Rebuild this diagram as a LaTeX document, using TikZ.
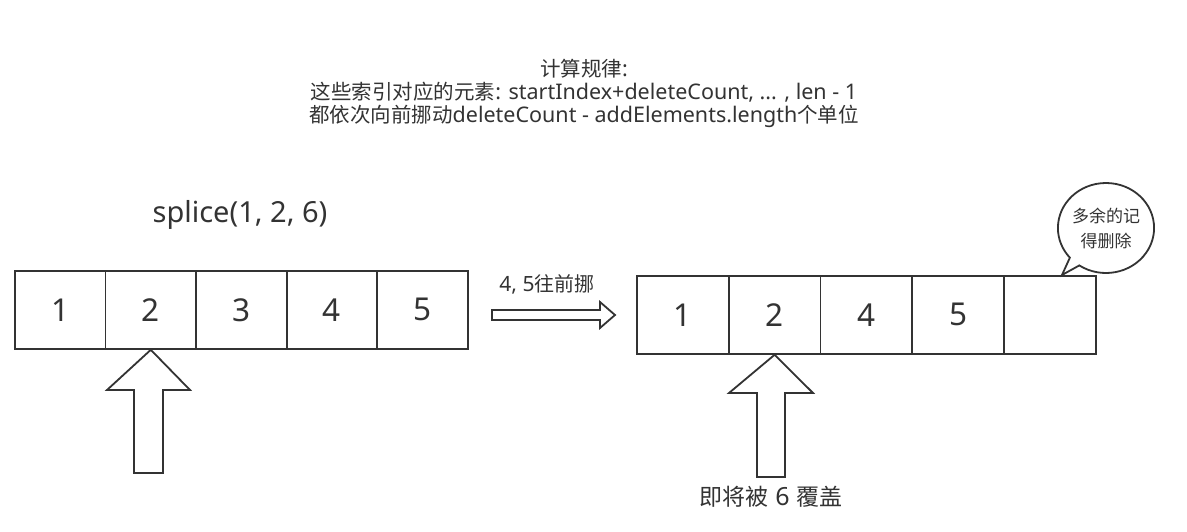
\documentclass[tikz,border=0pt]{standalone}
\usepackage{fontspec}
\setmainfont{Noto Sans}
\newfontfamily\cjk{Noto Sans CJK SC}
\usetikzlibrary{shapes.callouts,shapes.geometric}
\definecolor{ink}{HTML}{333333}
\newcommand\zhs[2]{{\cjk\fontsize{#1}{23}\selectfont #2}}
\begin{document}
\begin{tikzpicture}[x=1pt,y=-1pt,
  cellbox/.style={draw=ink,line width=1.8pt,minimum width=90.6pt,minimum height=78pt,inner sep=0pt,font=\fontsize{31.5}{32}\selectfont,text=ink,anchor=north west},
  rcellbox/.style={cellbox,minimum width=91.8pt},
  hollow/.style={draw=ink,line width=1.8pt,fill=white,line join=miter},
  lbl/.style={text=ink,inner sep=0pt,align=center}]
\useasboundingbox (0,0) rectangle (1187,532);
\fill[white] (0,0) rectangle (1187,532);
% title
\node[lbl,font=\fontsize{21.5}{23}\selectfont] (title) at (584,93)
  {\zhs{20.5}{计算规律}:\\\zhs{20.5}{这些索引对应的元素}: startIndex+deleteCount, ... , len - 1\\\zhs{20.5}{都依次向前挪动}deleteCount - addElements.length\zhs{20.5}{个单位}};
\node[lbl,font=\fontsize{29}{30}\selectfont] (call) at (240,215) {splice(1, 2, 6)};
% left row
\foreach \i/\t in {0/1,1/2,2/3,3/4,4/5}{
  \node[cellbox] (L\i) at (14+\i*90.6,270) {\t};
}
% right row
\foreach \i/\t in {0/1,1/2,2/4,3/5,4/{}}{
  \node[rcellbox] (R\i) at (636+\i*91.8,275) {\t};
}
% left up arrow
\coordinate (ltip) at (L1.south);
\draw[hollow] (ltip) -- (190,390) -- (163,390) -- (163,473) -- (134,473) -- (134,390) -- (107,390) -- cycle;
% right up arrow
\coordinate (rtip) at (R1.south);
\draw[hollow] (rtip) -- (813,393) -- (785,393) -- (785,477) -- (757,477) -- (757,393) -- (729,393) -- cycle;
% hollow right arrow
\coordinate (mtip) at (615,315);
\draw[hollow] (mtip) -- (600,328) -- (600,320) -- (492,320) -- (492,310) -- (600,310) -- (600,302) -- cycle;
\node[lbl,font=\fontsize{21}{22}\selectfont] (move) at (547,284) {4, 5\zhs{20}{往前挪}};
\node[lbl,font=\fontsize{25}{26}\selectfont] (cover) at (771,497) {\zhs{23}{即将被} 6 \zhs{23}{覆盖}};
% callout
\coordinate (ptr) at (1062,275);
\node[ellipse callout,draw=ink,line width=1.8pt,fill=white,minimum width=96pt,minimum height=90pt,
  callout absolute pointer={(ptr)},lbl,font=\cjk\fontsize{17}{25}\selectfont] (bubble) at (1106,228) {多余的记\\得删除};
\end{tikzpicture}
\end{document}
